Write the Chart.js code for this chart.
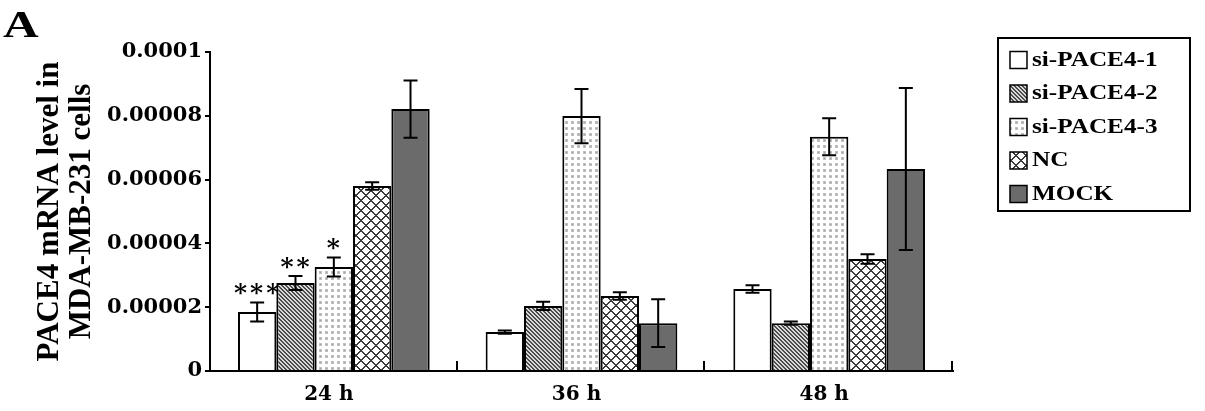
<!DOCTYPE html>
<html>
<head>
<meta charset="utf-8">
<script src="https://cdn.jsdelivr.net/npm/chart.js@4.4.1/dist/chart.umd.min.js"></script>
<style>
  html, body { margin: 0; padding: 0; background: #fff; }
  #wrap { width: 1205px; height: 411px; }
</style>
</head>
<body>
<div id="wrap"><canvas id="chart" width="1205" height="411"></canvas></div>
<script>
// ---------- DATA ----------
const categories = ["24 h", "36 h", "48 h"];
const seriesNames = ["si-PACE4-1", "si-PACE4-2", "si-PACE4-3", "NC", "MOCK"];

const si1 = [1.85e-5, 1.22e-5, 2.57e-5];
const si2 = [2.76e-5, 2.04e-5, 1.5e-5];
const si3 = [3.26e-5, 7.99e-5, 7.34e-5];
const nc = [5.8e-5, 2.35e-5, 3.51e-5];
const mock = [8.21e-5, 1.5e-5, 6.33e-5];

const si1Err = [0.3e-5, 0.05e-5, 0.12e-5];
const si2Err = [0.22e-5, 0.13e-5, 0.05e-5];
const si3Err = [0.3e-5, 0.85e-5, 0.58e-5];
const ncErr = [0.12e-5, 0.12e-5, 0.15e-5];
const mockErr = [0.9e-5, 0.75e-5, 2.54e-5];

// significance stars above bars
const si1Marks = ["***", "", ""];
const si2Marks = ["**", "", ""];
const si3Marks = ["*", "", ""];

const yTickValues = [0, 0.00002, 0.00004, 0.00006, 0.00008, 0.0001];
const yTickLabels = ["0", "0.00002", "0.00004", "0.00006", "0.00008", "0.0001"];

const SERIF = "'DejaVu Serif', serif";
const TIMES = "'Liberation Serif', serif";

// ---------- PATTERNS ----------
function pixelPattern(w, h, fn) {
  const c = document.createElement("canvas");
  c.width = w;
  c.height = h;
  const g = c.getContext("2d");
  const img = g.createImageData(w, h);
  for (let y = 0; y < h; y++) {
    for (let x = 0; x < w; x++) {
      const v = fn(x, y);
      const i = (y * w + x) * 4;
      img.data[i] = img.data[i + 1] = img.data[i + 2] = v;
      img.data[i + 3] = 255;
    }
  }
  g.putImageData(img, 0, 0);
  return g.createPattern(c, "repeat");
}

const hatchFill = pixelPattern(4, 4, (x, y) =>
  (((x - y) % 4) + 4) % 4 < 2 ? 0x4c : 0xd8
);
const dotFill = pixelPattern(6, 6, (x, y) =>
  x >= 1 && x <= 3 && y >= 1 && y <= 3 ? (x === 2 && y === 2 ? 0xa0 : 0xc0) : 0xff
);
const latticeFill = pixelPattern(10, 10, (x, y) => {
  const a = (x + y) % 10;
  const b = (((x - y) % 10) + 10) % 10;
  return a < 2 || b < 2 ? 0x3c : 0xff;
});

// text drawn a bit wider, like the scanned figure
function wideText(ctx, text, x, y, font, sx) {
  ctx.save();
  ctx.translate(x, y);
  ctx.scale(sx, 1);
  ctx.font = font;
  ctx.fillText(text, 0, 0);
  ctx.restore();
}

// ---------- PLUGIN ----------
const extras = {
  id: "extras",
  afterDatasetsDraw(chart) {
    const ctx = chart.ctx;
    const ys = chart.scales.y;
    ctx.save();
    ctx.strokeStyle = "#000";
    ctx.lineWidth = 2;
    chart.data.datasets.forEach((ds, di) => {
      const meta = chart.getDatasetMeta(di);
      meta.data.forEach((bar, i) => {
        const v = ds.data[i];
        const e = ds.errors[i];
        const yt = ys.getPixelForValue(v + e);
        const yb = ys.getPixelForValue(v - e);
        ctx.beginPath();
        ctx.moveTo(bar.x, yt);
        ctx.lineTo(bar.x, yb);
        ctx.moveTo(bar.x - 7, yt);
        ctx.lineTo(bar.x + 7, yt);
        ctx.moveTo(bar.x - 7, yb);
        ctx.lineTo(bar.x + 7, yb);
        ctx.stroke();
        const mark = ds.marks && ds.marks[i];
        if (mark) {
          ctx.fillStyle = "#000";
          ctx.font = "bold 25px " + SERIF;
          ctx.letterSpacing = "3px";
          ctx.textAlign = "center";
          ctx.textBaseline = "alphabetic";
          ctx.fillText(mark, bar.x + 1, yt - 1);
          ctx.letterSpacing = "0px";
        }
      });
    });
    ctx.restore();
  },
  afterDraw(chart) {
    const ctx = chart.ctx;
    const xs = chart.scales.x;
    const area = chart.chartArea;
    ctx.save();
    // inward ticks between categories
    ctx.strokeStyle = "#000";
    ctx.lineWidth = 2;
    const step = (xs.right - xs.left) / categories.length;
    for (let i = 1; i <= categories.length; i++) {
      const px = Math.round(xs.left + i * step) - 1;
      ctx.beginPath();
      ctx.moveTo(px, area.bottom);
      ctx.lineTo(px, area.bottom - 10);
      ctx.stroke();
    }

    // panel letter
    ctx.fillStyle = "#000";
    ctx.textAlign = "left";
    ctx.textBaseline = "alphabetic";
    wideText(ctx, "A", 3, 37, "bold 38px " + TIMES, 1.3);

    // legend
    ctx.lineWidth = 2;
    ctx.strokeRect(998, 38, 192, 173);
    ctx.textBaseline = "middle";
    chart.data.datasets.forEach((ds, i) => {
      const cy = 59.5 + i * 33.5;
      ctx.fillStyle = ds.backgroundColor;
      ctx.fillRect(1010, cy - 8, 17, 17);
      ctx.strokeStyle = "#000";
      ctx.lineWidth = 1.5;
      ctx.strokeRect(1010, cy - 8, 17, 17);
      ctx.fillStyle = "#000";
      wideText(ctx, ds.label, 1032, cy + 1, "bold 20px " + TIMES, 1.26);
    });
    ctx.restore();
  },
};

// ---------- CHART ----------
function series(i, data, errors, fill, marks) {
  return {
    label: seriesNames[i],
    data: data,
    errors: errors,
    marks: marks,
    backgroundColor: fill,
    borderColor: "#000",
    borderWidth: 2,
  };
}

new Chart(document.getElementById("chart"), {
  type: "bar",
  data: {
    labels: categories,
    datasets: [
      series(0, si1, si1Err, "#ffffff", si1Marks),
      series(1, si2, si2Err, hatchFill, si2Marks),
      series(2, si3, si3Err, dotFill, si3Marks),
      series(3, nc, ncErr, latticeFill),
      series(4, mock, mockErr, "#6b6b6b"),
    ],
  },
  options: {
    responsive: false,
    animation: false,
    layout: { padding: { left: 0, right: 252, top: 52, bottom: 0 } },
    datasets: { bar: { categoryPercentage: 0.774, barPercentage: 1 } },
    plugins: { legend: { display: false }, tooltip: { enabled: false } },
    scales: {
      x: {
        z: 1,
        grid: { display: false },
        border: { display: true, color: "#000", width: 2 },
        ticks: {
          color: "#000",
          padding: 4,
          labelOffset: -5,
          font: { family: SERIF, size: 20, weight: "bold" },
        },
        afterFit: (s) => {
          s.height = 40;
        },
      },
      y: {
        z: 1,
        min: 0,
        max: 0.0001,
        afterBuildTicks: (s) => {
          s.ticks = yTickValues.map((v) => ({ value: v }));
        },
        grid: {
          display: true,
          drawOnChartArea: false,
          drawTicks: true,
          tickLength: 5,
          color: "#000",
          lineWidth: 2,
        },
        border: { display: true, color: "#000", width: 2 },
        ticks: {
          color: "#000",
          padding: 3,
          font: { family: SERIF, size: 21, weight: "bold" },
          callback: (v, i) => yTickLabels[i],
        },
        title: {
          display: true,
          text: ["PACE4 mRNA level in", "MDA-MB-231 cells"],
          color: "#000",
          font: { family: TIMES, size: 31, weight: "bold", lineHeight: 1.04 },
          padding: { top: 34, bottom: 0 },
        },
        afterFit: (s) => {
          s.width = 210;
        },
      },
    },
  },
  plugins: [extras],
});
</script>
</body>
</html>
